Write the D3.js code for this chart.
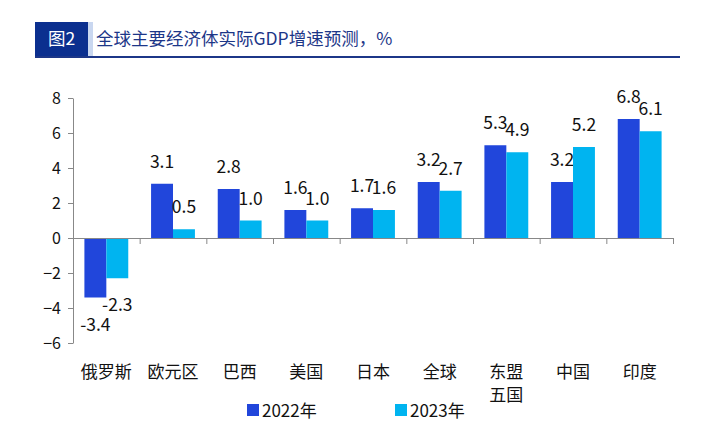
<!DOCTYPE html>
<html><head><meta charset="utf-8">
<script src="https://cdn.jsdelivr.net/npm/d3@7"></script>
<style>body{margin:0;background:#fff;}svg{display:block;font-family:"Noto Sans CJK SC","Noto Sans",sans-serif;}</style>
</head><body>
<svg id="c" width="701" height="437"></svg>
<script>
const categories = [["俄罗斯"],["欧元区"],["巴西"],["美国"],["日本"],["全球"],["东盟","五国"],["中国"],["印度"]];
const series2022 = [-3.4, 3.1, 2.8, 1.6, 1.7, 3.2, 5.3, 3.2, 6.8];
const series2023 = [-2.3, 0.5, 1.0, 1.0, 1.6, 2.7, 4.9, 5.2, 6.1];
const seriesNames = ["2022年", "2023年"];
const yTicks = [-6, -4, -2, 0, 2, 4, 6, 8];
const title = "全球主要经济体实际GDP增速预测，%";
const figLabel = "图2";

const colors = ["#2146DB", "#00B4F0"];
const svg = d3.select("#c");

// header
svg.append("rect").attr("x",35).attr("y",22).attr("width",53).attr("height",34).attr("fill","#0B2F8F");
svg.append("rect").attr("x",88).attr("y",22).attr("width",5).attr("height",34).attr("fill","#C9D7F0");
svg.append("text").attr("x",61.5).attr("y",45).attr("text-anchor","middle").attr("fill","#fff")
  .attr("font-size",17.5).text(figLabel);
svg.append("text").attr("x",96).attr("y",45).attr("fill","#1C3688").attr("font-size",17.5).text(title);
svg.append("line").attr("x1",35).attr("x2",680).attr("y1",57).attr("y2",57).attr("stroke","#1C3688").attr("stroke-width",2);

const x = d3.scaleBand().domain(d3.range(categories.length)).range([73,673]).paddingInner(0).paddingOuter(0);
const y = d3.scaleLinear().domain([-6,8]).range([343,98]);
const inner = d3.scaleBand().domain([0,1]).range([0,x.bandwidth()]).paddingOuter(0.52).paddingInner(0);

// bars
const data = categories.map((c,i)=>({i, vals:[series2022[i], series2023[i]]}));
const g = svg.append("g");
data.forEach(d=>{
  d.vals.forEach((v,k)=>{
    const x0 = x(d.i)+inner(k);
    g.append("rect").attr("x",x0).attr("width",inner.bandwidth())
      .attr("y",Math.min(y(v),y(0))).attr("height",Math.abs(y(v)-y(0))).attr("fill",colors[k]);
    const cx = x0+inner.bandwidth()/2;
    const ty = v>=0 ? y(v)-16 : y(v)+33;
    g.append("text").attr("x",cx).attr("y",ty).attr("text-anchor","middle")
      .attr("font-size",17.5).attr("fill","#111").text(v.toFixed(1));
  });
});

// y axis
const yAxis = d3.axisLeft(y).tickValues(yTicks).tickSize(5).tickSizeOuter(0).tickFormat(d3.format("d"));
const ya = svg.append("g").attr("transform","translate(73,0)").call(yAxis);
ya.select(".domain").attr("stroke","#888");
ya.selectAll(".tick line").attr("stroke","#888");
ya.selectAll(".tick text").attr("font-size",16).attr("fill","#111").attr("font-family","\"Noto Sans CJK SC\",sans-serif").attr("x",-12);

// x axis at zero
const xAxis = d3.axisBottom(d3.scaleLinear().domain([0,categories.length]).range([73,673]))
  .tickValues(d3.range(1,categories.length+1)).tickSize(6).tickSizeOuter(0).tickFormat("");
const xa = svg.append("g").attr("transform",`translate(0,${y(0)})`).call(xAxis);
xa.select(".domain").attr("stroke","#888");
xa.selectAll(".tick line").attr("stroke","#888");

// category labels
categories.forEach((lines,i)=>{
  const t = svg.append("text").attr("x",x(i)+x.bandwidth()/2).attr("y",378)
    .attr("text-anchor","middle").attr("font-size",17).attr("fill","#111");
  lines.forEach((l,j)=>t.append("tspan").attr("x",x(i)+x.bandwidth()/2).attr("dy",j?23:0).text(l));
});

// legend
const legX = [247, 395];
seriesNames.forEach((n,k)=>{
  svg.append("rect").attr("x",legX[k]).attr("y",404).attr("width",12).attr("height",12).attr("fill",colors[k]);
  svg.append("text").attr("x",legX[k]+15).attr("y",416.5).attr("font-size",17).attr("fill","#111").text(n);
});
</script>
</body></html>
